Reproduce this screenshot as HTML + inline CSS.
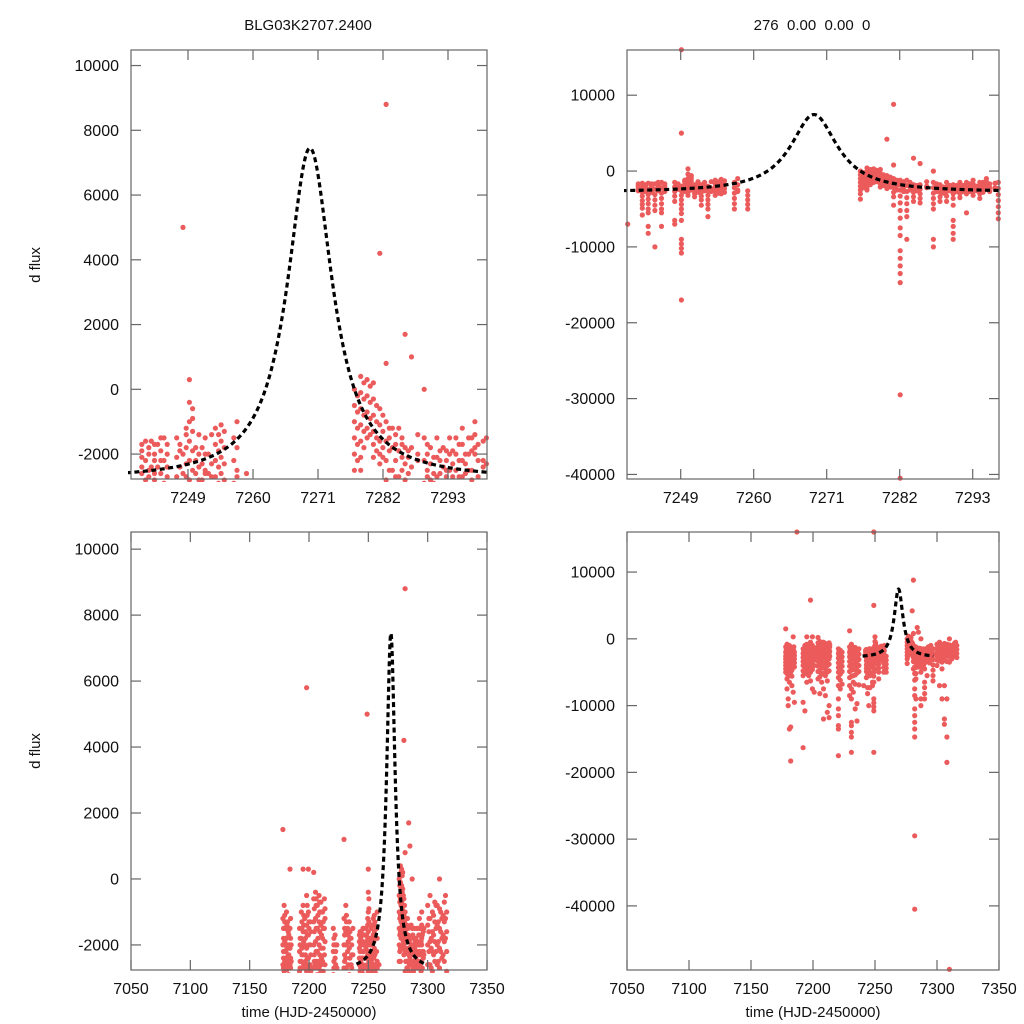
<!DOCTYPE html>
<html><head><meta charset="utf-8"><style>
html,body{margin:0;padding:0;background:#fff;width:1024px;height:1024px;overflow:hidden}
svg{display:block;font-family:"Liberation Sans",sans-serif}
</style></head><body>
<svg id="chart" width="1024" height="1024" viewBox="0 0 1024 1024" xmlns="http://www.w3.org/2000/svg">
<text x="308" y="30" text-anchor="middle" font-size="15" fill="#111">BLG03K2707.2400</text>
<text x="812" y="30" text-anchor="middle" font-size="15" fill="#111" xml:space="preserve">276  0.00  0.00  0</text>
<text transform="translate(40,265) rotate(-90)" text-anchor="middle" font-size="15" fill="#111">d flux</text>
<text transform="translate(40,751) rotate(-90)" text-anchor="middle" font-size="15" fill="#111">d flux</text>
<text x="309" y="1017" text-anchor="middle" font-size="15" fill="#111">time (HJD-2450000)</text>
<text x="813" y="1017" text-anchor="middle" font-size="15" fill="#111">time (HJD-2450000)</text>
</svg>
<script>
// ---- data: observation nights (HJD-2450000) and flux values (thousands) ----
const nightTimes = [7178,7179,7180,7181,7182,7183,7184,7185,7187,
7192,7193.5,7195,7196.5,7198,7199.5,7201,
7204,7205.5,7207,7208.5,7210,7211.5,7213,
7220.5,7222,7223.5,
7229.5,7231,7232.5,7234,7235.5,7237,
7240.9,7243.1,7244,7245,7246,7248,7249,7250,7251,7252,7253,7254.1,7255,7257,7259,
7276,7277,7278,7279,7280,7281,7282,7283,7284,7285,7287,7288,7289,7290,7291,7292,7293,7294,7295,7296.8,
7300,7302,7304,7306,7308,7310,7312,7314,7316];
const nightFluxK = [
[-1.2,-2,-2.6,-3,-3.5,-4,-4.5,-5,1.5],
[-0.8,-1.5,-2.2,-2.8,-3.3,-3.8,-4.4,-5.2,-6,-7.5],
[-1.5,-2,-2.5,-3,-3.6,-4.2,-4.8,-5.5,-9,-10],
[-1,-1.8,-2.4,-3,-3.5,-4,-4.6,-5.5,-6.5,-13.5],
[-1.3,-2,-2.7,-3.2,-3.9,-4.5,-5,-13.2,-18.3],
[-1.7,-2.3,-2.9,-3.4,-4,-4.7,-5.6,-7],
[0.3,-1.5,-2.1,-2.6,-3.1,-3.7,-4.3,-8],
[-2,-2.5,-3,-3.6,-4.2,-9.5],
[16],
[-1.5,-2.2,-2.8,-3.4,-4,-4.8,-5.5,-9.5,-16.3],
[-1,-1.8,-2.5,-3.2,-3.8,-4.5,-5.2,-10.8],
[-0.8,-1.6,-2.3,-3,-3.6,-4.3,-5,-6.5,0.3],
[-1.2,-2,-2.7,-3.3,-4,-4.7,-5.5],
[-0.5,-1.4,-2.1,-2.8,-3.5,-4.2,-5,-6.3,5.8],
[-1,-1.7,-2.4,-3.1,-3.8,-4.6,-7.5,0.3],
[-1.3,-2,-2.6,-3.2,-4,-8],
[-0.6,-1.3,-2,-2.7,-3.4,-4.1,-4.9,-6,0.2],
[-0.4,-1.2,-1.9,-2.6,-3.3,-4,-4.8,-5.7,-8.2],
[-0.8,-1.5,-2.2,-2.9,-3.6,-4.4,-5.3,-6.5],
[-0.5,-1.3,-2,-2.7,-3.5,-4.3,-5.2,-7.5,-12],
[-0.7,-1.4,-2.1,-2.8,-3.6,-4.5,-5.5,-8.5],
[-1,-1.8,-2.5,-3.2,-4,-5,-6.3,-11],
[-0.6,-1.5,-2.3,-3,-3.8,-4.8,-11.8,-10],
[-1.5,-2.2,-2.9,-3.6,-4.3,-5,-5.8,-7,-9,-10.5,-11.5,-13,-13.5,-17.5],
[-1.7,-2.4,-3.1,-3.8,-4.5,-5.3,-6.2,-7.5],
[-2,-2.7,-3.4,-4.1,-4.9,-6.8],
[-1.2,-2,-2.7,-3.4,-4.1,-4.9,-5.8,-7,-8.5,1.2],
[-0.8,-1.6,-2.4,-3.1,-3.9,-4.7,-5.6,-7.5,-9,-12.5,-13,-14,-14.7,-17],
[-1.5,-2.2,-3,-3.8,-4.6,-5.5,-6.5,-8],
[-1.3,-2.1,-2.9,-3.7,-4.5,-5.4,-6.8,-10.5],
[-1.8,-2.6,-3.4,-4.2,-5.1,-9.7,-12.3],
[-1.5,-2.3,-3.1,-4,-4.9,-6.9],
[-7],
[-1.6,-2.2,-2.8,-3.3,-3.9,-4.4,-4.9,-5.8],
[-1.6,-2.4,-3.1,-3.7,-4.3,-5,-5.5,-7.3,-8.2],
[-1.7,-2.4,-3.1,-3.8,-4.5,-5.2,-10],
[-1.5,-2.2,-2.9,-3.6,-4.3,-5,-5.5,-7.3],
[-1.5,-2.1,-2.7,-3.3,-4,-6.5,-7],
[-2,-2.6,-3.2,-3.8,-4.4,-5,-5.6,-6.5,-9,-9.6,-10.2,-10.8,5,-17,16],
[0.3,-0.4,-1,-1.6,-2.2,-2.8,-3.2],
[-1.8,-2.2,-2.6,-3,-3.4],
[-1.8,-2.3,-2.8,-3.3,-3.8,-4.5],
[-2,-2.6,-3.2,-3.8,-4.4,-5,-6],
[-1.2,-1.7,-2.2,-2.7,-3.2],
[-1.1,-1.6,-2.1,-2.6,-3],
[-1.5,-2.2,-2.9,-3.6,-4.3,-5],
[-2.6,-3.2,-3.8,-4.4,-5],
[0,-0.5,-1,-1.5,-2,-2.5,-3,-3.7],
[0.4,-0.1,-0.6,-1.1,-1.6,-2.1,-2.5],
[0.3,-0.2,-0.7,-1.2,-1.5],
[0.2,-0.3,-0.8,-1.3,-1.7,-2.1],
[-0.6,-1.1,-1.6,-2,-2.3,4.2],
[-1,-1.6,-2.2,-2.8,-3.4,-4.5,8.8,0.8],
[-1.2,-1.8,-2.5,-3.3,-4.2,-5.2,-6.2,-7.5,-8.5,-10.5,-11.5,-12.5,-13.5,-14.7,-29.5,-40.5],
[-1.2,-1.9,-2.7,-3.5,-4.3,-5.2,-6,-9],
[-1.8,-2.3,-2.8,-3.4,-4,1.7],
[-1.8,-2.4,-3,-3.6,-4.2,1],
[-1.5,-2.2,-2.9,-3.6,-4.3,-5,-9,-10,0],
[-1.8,-2.3,-2.8,-3.4,-4],
[-1.5,-2.1,-2.7,-3.3,-4],
[-1.8,-2.4,-3,-3.6,-4.5,-6.5,-7.3,-8.2,-9],
[-1.5,-2,-2.5,-3,-3.5],
[-1.5,-2,-2.5,-3,-5.5],
[-1.2,-1.7,-2.2,-2.7,-3.2],
[-1.5,-2,-2.5,-3,-3.6],
[-1,-1.4,-1.8,-2],
[-1.5,-2.3,-3.1,-3.9,-4.7,-5.5,-6.3],
[-0.8,-1.4,-2,-2.6,-3.2,-4],
[-0.5,-1.2,-1.9,-2.6,-3.3,-7],
[-1,-1.6,-2.2,-2.8,-3.5,-4.5,-9],
[-0.7,-1.3,-1.9,-2.5,-3.2,-7,-12,-12.8],
[-0.8,-1.4,-2,-2.6,-3.4,-9,-14.7,-18.5],
[0,-0.9,-1.5,-2.1,-2.7,-3.5,-49.5],
[-1.2,-1.8,-2.4,-3],
[-0.7,-1.3,-1.9,-2.5],
[-1,-1.6,-2.2,-2.8]
];
// additional near-baseline observations (dense measurements)
const extraTimes = [7178.5,7179.5,7180.5,7181.5,7182.5,7183.5,7184.5,
7192.5,7194,7195.5,7197,7198.5,7200,7201.5,
7204.5,7206,7207.5,7209,7210.5,7212,7213.5,
7221,7222.5,7230,7231.5,7233,7234.5,7236,
7242.5,7243.6,7244.5,7245.5,7246.5,7248.5,7249.5,7250.5,7251.5,7252.5,7253.5,7254.6,7255.5,7257.5,
7276.5,7277.5,7278.5,7279.5,7280.5,7281.5,7282.5,7283.5,7284.5,7286,7287.5,7288.5,7289.5,7290.5,7291.5,7292.5,7293.5,7294.5,7295.5,7296.3,
7301,7303,7305,7307,7309,7311,7313,7315];
const extraFluxK = [
[-1.5,-1.8,-2.2,-2.4,-2.7],[-1.1,-1.3,-1.9,-2.5,-2.7],[-1.8,-2.2,-2.4,-2.7],[-1.4,-2.1,-2.6,-2.75],[-1.6,-2.3,-2.5],[-2,-2.1,-2.6],[-1.2,-1.8,-2.4,-2.7],
[-1.8,-2,-2.5,-2.7],[-1.3,-1.5,-2.1,-2.3,-2.7],[-1.1,-1.4,-1.9,-2.6],[-1.6,-1.8,-2.3,-2.5],[-0.8,-1.1,-1.7,-2.4,-2.6],[-1.3,-1.5,-2,-2.7],[-1.6,-2.3,-2.8],
[-0.9,-1.6,-2.3,-2.5],[-0.6,-0.8,-1.5,-2.2,-2.5],[-1.1,-1.8,-2.5,-2.7],[-0.7,-1,-1.6,-2.3,-2.6],[-1,-1.7,-2.4,-2.6],[-1.3,-1.5,-2.1,-2.8],[-0.9,-1.2,-1.9,-2.6],
[-1.8,-2,-2.5,-2.7],[-2,-2.2,-2.6],[-1.5,-1.7,-2.3,-2.5],[-1.1,-1.3,-2,-2.7],[-1.7,-1.9,-2.6],[-1.6,-1.8,-2.4],[-2,-2.3,-2.7],
[-1.7,-1.9,-2.1,-2.4,-2.6],[-1.8,-2,-2.5,-2.7],[-1.7,-2,-2.2,-2.6,-2.8],[-1.5,-1.9,-2.2,-2.6],[-1.7,-2,-2.4,-2.7],[-1.7,-1.9,-2.4],[-1.2,-1.4,-1.8,-2.3,-2.7],[-0.6,-0.9,-1.3,-1.9,-2.5],[-1.4,-2,-2.4,-2.8],[-1.5,-2,-2.5,-2.6],[-1.4,-2.3,-2.7],[-1.4,-1.9,-2.4,-2.9],[-1.3,-1.8,-2.3,-2.8],[-1,-1.8,-2.5,-2.7],
[-0.2,-0.7,-1.2,-1.7,-2.2],[0.2,-0.3,-0.8,-1.3,-1.8],[0.1,-0.4,-0.9,-1.4],[-0.5,-1,-1.5,-1.9],[-0.8,-1.3,-1.8,-2.1],[-1.2,-1.5,-1.9,-2.5],[-1.4,-1.7,-2.2,-2.7],[-1.5,-1.7,-2.1,-2.5],[-1.9,-2.1,-2.6],[-1.4,-2,-2.2],[-1.7,-2,-2.5,-2.7],[-2.1,-2.6,-2.9],[-1.9,-2.2,-2.6],[-1.9,-2.2,-2.5,-2.7],[-1.9,-2.3,-2.7],[-1.7,-2.2,-2.7],[-2,-2.3,-2.6],[-1.5,-1.9,-2.5,-2.8],[-1.7,-2.2,-2.7],[-1.6,-2.2,-2.4],[-1.2,-1.6,-2.2,-2.6],[-1.8,-2.1,-2.7],
[-1.1,-1.7,-2.3],[-0.8,-1.5,-2.2],[-1.3,-1.9,-2.5],[-1,-1.6,-2.2],[-1.1,-1.7,-2.3],[-0.5,-1.2,-1.8],[-1.5,-2.1],[-1,-1.6,-2.2]
];
// model parameters
const modelPeakTime = 7269;
const modelPeakFlux = 7450;
const modelBase = -2800;
const modelWidth = 4.3;
const modelRange = [7240, 7297];
// tick labels
const yTicksSmall = [-2000,0,2000,4000,6000,8000,10000];
const yTicksLarge = [-40000,-30000,-20000,-10000,0,10000];
const xTicksZoom = [7249,7260,7271,7282,7293];
const xTicksFull = [7050,7100,7150,7200,7250,7300,7350];

const NS='http://www.w3.org/2000/svg';
const svg=document.getElementById('chart');
function mk(tag,attrs,parent){const e=document.createElementNS(NS,tag);for(const k in attrs)e.setAttribute(k,attrs[k]);(parent||svg).appendChild(e);return e;}

const panels=[
 {id:'top-left',x0:131,x1:487,y0:50,y1:479,xd:[7240.8,7296.9],yd:[-2770,10480],yt:yTicksSmall,xt:xTicksZoom,tickPos:v=>188+(v-7249)*65/11},
 {id:'top-right',x0:627,x1:999,y0:50,y1:479,xd:[7240.8,7296.9],yd:[-40600,15960],yt:yTicksLarge,xt:xTicksZoom,tickPos:v=>680.7+(v-7249)*73/11},
 {id:'bottom-left',x0:131,x1:487,y0:532,y1:970,xd:[7050,7350],yd:[-2760,10520],yt:yTicksSmall,xt:xTicksFull,tickPos:null},
 {id:'bottom-right',x0:627,x1:999,y0:532,y1:970,xd:[7050,7350],yd:[-49600,16000],yt:yTicksLarge,xt:xTicksFull,tickPos:null}
];
function model(t){const d=(t-modelPeakTime)/modelWidth;return modelBase+(modelPeakFlux-modelBase)/(1+d*d);}

panels.forEach((p,pi)=>{
 const sx=t=>p.x0+(t-p.xd[0])/(p.xd[1]-p.xd[0])*(p.x1-p.x0);
 const sy=v=>p.y1-(v-p.yd[0])/(p.yd[1]-p.yd[0])*(p.y1-p.y0);
 const tp=p.tickPos||sx;
 const g=mk('g',{});
 
 
 const cp=mk('clipPath',{id:'cp'+pi},g);
 mk('rect',{x:p.x0-3,y:p.y0-3,width:p.x1-p.x0+6,height:p.y1-p.y0+6},cp);
 const pts=mk('g',{'clip-path':'url(#cp'+pi+')',fill:'#ec5b5b'},g);
 
 
 const drawSet=(times,fluxes)=>{
  times.forEach((t,i)=>{
   fluxes[i].forEach(v=>{
    const c=mk('circle',{cx:sx(t).toFixed(1),cy:sy(v*1000).toFixed(1),r:2.6},pts);
    
    
   });
  });
 };
 drawSet(nightTimes,nightFluxK);
 drawSet(extraTimes,extraFluxK);
 // model
 let d='';
 for(let k=0;k<=600;k++){const t=modelRange[0]+(modelRange[1]-modelRange[0])*k/600;d+=(k?'L':'M')+sx(t).toFixed(2)+','+sy(model(t)).toFixed(2);}
 const ml=mk('path',{d:d,fill:'none',stroke:'#000','stroke-width':3.2,'stroke-dasharray':'5,3.5','clip-path':'url(#cp'+pi+')'},g);
 
 
 // frame
 const fr=mk('rect',{x:p.x0,y:p.y0,width:p.x1-p.x0,height:p.y1-p.y0,fill:'none',stroke:'#666','stroke-width':1.2},g);
 
 
 // y ticks
 p.yt.forEach(v=>{
  const y=sy(v);
  mk('line',{x1:p.x0,x2:p.x0+10,y1:y,y2:y,stroke:'#666','stroke-width':1.2},g);
  mk('line',{x1:p.x1,x2:p.x1-10,y1:y,y2:y,stroke:'#666','stroke-width':1.2},g);
  const tx=mk('text',{x:p.x0-12,y:y+5.5,'text-anchor':'end','font-size':16,fill:'#111'},g);
  tx.textContent=v;
  
  
 });
 // x ticks
 p.xt.forEach(v=>{
  const x=tp(v);
  mk('line',{x1:x,x2:x,y1:p.y1,y2:p.y1-10,stroke:'#666','stroke-width':1.2},g);
  mk('line',{x1:x,x2:x,y1:p.y0,y2:p.y0+10,stroke:'#666','stroke-width':1.2},g);
  const tx=mk('text',{x:x,y:p.y1+24,'text-anchor':'middle','font-size':16,fill:'#111'},g);
  tx.textContent=v;
  
  
 });
});
</script>
</body></html>
